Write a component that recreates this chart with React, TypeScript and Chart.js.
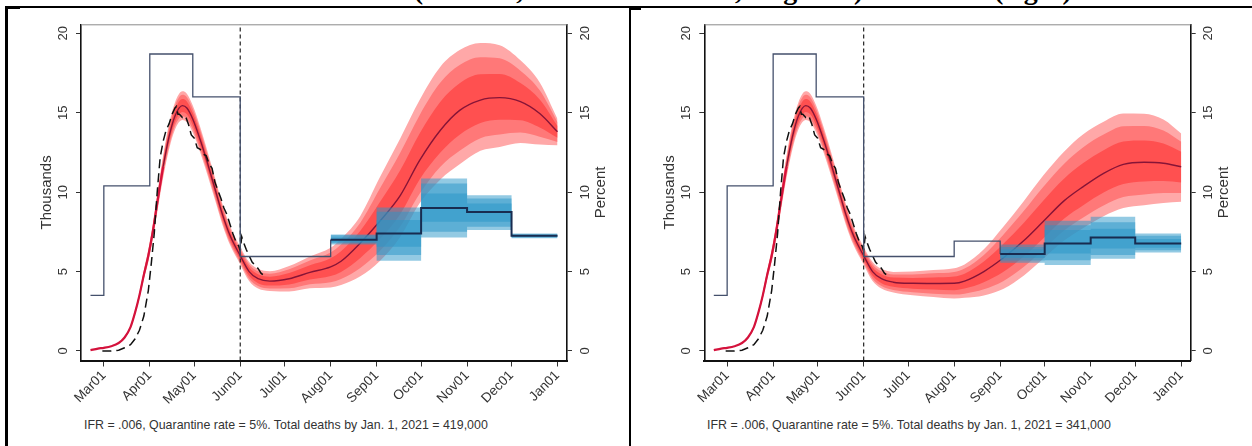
import React, { useEffect, useRef } from 'react';
import { Chart, registerables } from 'chart.js';

Chart.register(...registerables);

// ---------- axes ----------
const TICK_DAYS = [0, 31, 61, 92, 122, 153, 184, 214, 245, 275, 306];
const TICK_LABELS = ['Mar01', 'Apr01', 'May01', 'Jun01', 'Jul01', 'Aug01', 'Sep01', 'Oct01', 'Nov01', 'Dec01', 'Jan01'];
const Y_TICKS = [0, 5, 10, 15, 20];
const X_MIN = -15.4;
const X_MAX = 312.4;
const Y_MIN = -0.6;
const Y_MAX = 20.57;
const LOCKDOWN_DAY = 92;

const TITLE = 'and demand forces (sectoral, work-from-home, wage cut) combined (right)';
const FOOTER_LEFT = 'IFR = .006, Quarantine rate = 5%. Total deaths by Jan. 1, 2021 = 419,000';
const FOOTER_RIGHT = 'IFR = .006, Quarantine rate = 5%. Total deaths by Jan. 1, 2021 = 341,000';

// ---------- simulated daily deaths (thousands), days since Mar 1 ----------
const FAN_DAYS = [-9, -4, 0, 5, 10, 14, 18, 21, 24, 27, 30, 33, 36, 40, 44, 48, 53, 56, 60, 65, 70, 75, 80, 85, 92, 98, 104,
  112, 125, 139, 153, 160, 173, 186, 200, 213, 227, 240, 254, 267, 281, 294, 306];

// common history (days -9 .. 104)
const MED_EARLY = [0.05, 0.15, 0.2, 0.3, 0.5, 0.85, 1.5, 2.4, 3.5, 4.8, 6.0, 7.5, 9.3, 11.6, 13.5, 14.8, 15.45, 15.3, 14.6, 13.3, 11.8, 10.2, 8.6, 7.3, 6.0, 5.0, 4.55];
const OUT_HI_EARLY = [0.05, 0.15, 0.2, 0.3, 0.52, 0.9, 1.6, 2.55, 3.7, 5.1, 6.4, 8.0, 9.9, 12.3, 14.3, 15.65, 16.35, 16.2, 15.45, 14.1, 12.55, 10.9, 9.25, 7.9, 6.55, 5.6, 5.17];
const OUT_LO_EARLY = [0.05, 0.15, 0.2, 0.3, 0.48, 0.8, 1.4, 2.25, 3.3, 4.5, 5.6, 7.0, 8.7, 10.9, 12.7, 13.95, 14.55, 14.4, 13.75, 12.5, 11.05, 9.5, 7.95, 6.7, 5.45, 4.4, 3.93];
const MID_HI_EARLY = [0.05, 0.15, 0.2, 0.3, 0.52, 0.89, 1.58, 2.51, 3.65, 5.03, 6.3, 7.88, 9.75, 12.13, 14.1, 15.44, 16.13, 15.98, 15.24, 13.9, 12.36, 10.73, 9.09, 7.75, 6.41, 5.45, 5.02];
const MID_LO_EARLY = [0.05, 0.15, 0.2, 0.3, 0.48, 0.81, 1.43, 2.29, 3.35, 4.58, 5.7, 7.13, 8.85, 11.08, 12.9, 14.16, 14.78, 14.63, 13.96, 12.7, 11.24, 9.68, 8.11, 6.85, 5.59, 4.55, 4.09];
const IN_HI_EARLY = [0.05, 0.15, 0.2, 0.3, 0.51, 0.87, 1.55, 2.47, 3.59, 4.94, 6.18, 7.73, 9.57, 11.92, 13.86, 15.18, 15.86, 15.71, 14.98, 13.66, 12.14, 10.52, 8.89, 7.57, 6.25, 5.27, 4.83];
const IN_LO_EARLY = [0.05, 0.15, 0.2, 0.3, 0.49, 0.83, 1.46, 2.33, 3.41, 4.67, 5.82, 7.28, 9.03, 11.29, 13.14, 14.42, 15.05, 14.9, 14.22, 12.94, 11.46, 9.89, 8.31, 7.03, 5.75, 4.73, 4.27];

// left panel forecast (days 112 .. 306)
const L_MED_LATE = [4.4, 4.55, 4.95, 5.3, 5.65, 6.8, 8.15, 9.8, 12.0, 13.9, 15.15, 15.8, 15.95, 15.7, 14.95, 13.8];
const L_OUT_HI_LATE = [5.02, 5.35, 5.95, 6.5, 7.05, 8.5, 10.9, 13.4, 15.8, 17.9, 18.95, 19.4, 19.25, 18.3, 16.9, 14.6];
const L_OUT_LO_LATE = [3.78, 3.75, 3.95, 4.0, 4.15, 4.7, 5.65, 7.2, 9.3, 10.8, 11.75, 12.6, 12.85, 13.1, 13.0, 12.95];
const L_MID_HI_LATE = [4.87, 5.15, 5.7, 6.2, 6.7, 8.08, 10.2, 12.5, 14.85, 16.9, 18.0, 18.5, 18.43, 17.65, 16.41, 14.4];
const L_MID_LO_LATE = [3.94, 3.95, 4.2, 4.33, 4.53, 5.23, 6.28, 7.85, 9.9, 11.6, 12.6, 13.4, 13.63, 13.75, 13.49, 13.16];
const L_IN_HI_LATE = [4.68, 4.91, 5.4, 5.84, 6.28, 7.57, 9.35, 11.4, 13.7, 15.7, 16.86, 17.42, 17.44, 16.87, 15.83, 14.16];
const L_IN_LO_LATE = [4.12, 4.19, 4.5, 4.72, 4.98, 5.86, 7.03, 8.63, 10.8, 12.5, 13.62, 14.36, 14.56, 14.53, 14.07, 13.42];

// right panel forecast (days 112 .. 306)
const R_MED_LATE = [4.33, 4.26, 4.25, 4.26, 4.4, 5.0, 5.85, 6.95, 8.15, 9.45, 10.35, 11.2, 11.75, 11.88, 11.82, 11.6];
const R_OUT_HI_LATE = [4.98, 5.01, 5.1, 5.21, 5.45, 6.4, 7.8, 9.45, 11.05, 12.55, 13.65, 14.45, 14.95, 14.93, 14.57, 13.7];
const R_OUT_LO_LATE = [3.68, 3.51, 3.4, 3.31, 3.35, 3.5, 3.9, 4.75, 5.8, 6.95, 7.75, 8.5, 9.0, 9.18, 9.32, 9.4];
const R_MID_HI_LATE = [4.82, 4.82, 4.89, 4.97, 5.19, 6.05, 7.31, 8.83, 10.33, 11.78, 12.83, 13.64, 14.15, 14.17, 13.88, 13.18];
const R_MID_LO_LATE = [3.84, 3.7, 3.61, 3.55, 3.61, 3.88, 4.39, 5.3, 6.39, 7.58, 8.4, 9.18, 9.69, 9.86, 9.95, 9.95];
const R_IN_HI_LATE = [4.62, 4.6, 4.63, 4.69, 4.87, 5.63, 6.73, 8.08, 9.46, 10.85, 11.84, 12.66, 13.19, 13.25, 13.06, 12.55];
const R_IN_LO_LATE = [4.04, 3.92, 3.87, 3.83, 3.93, 4.33, 4.97, 5.96, 7.09, 8.33, 9.18, 9.99, 10.51, 10.67, 10.7, 10.61];

// ---------- observed daily deaths (thousands) ----------
const OBS_DAYS = [-1, 5, 10, 14, 18, 21, 24, 27, 30, 32, 34, 36, 38, 40, 42, 44, 46, 48, 49, 50, 51, 53, 55, 57, 59, 61, 63, 65, 67, 69, 71, 73, 75, 77, 79, 81, 83, 85, 87, 89, 91, 92, 93, 94, 96, 98, 100, 102, 104, 106, 108];
const OBS_DEATHS = [0.0, 0.0, 0.05, 0.2, 0.4, 0.75, 1.3, 2.2, 3.8, 5.5, 7.4, 10.0, 12.2, 13.2, 13.9, 14.3, 14.9, 15.3, 15.4, 14.9, 14.9, 14.7, 14.8, 14.3, 13.6, 13.4, 12.8, 12.7, 12.4, 12.3, 11.8, 11.5, 10.6, 10.1, 9.6, 9.0, 8.6, 8.0, 7.4, 6.9, 6.6, 6.3, 7.2, 6.9, 6.4, 6.0, 5.6, 5.4, 5.2, 4.9, 4.75];

// ---------- unemployment rate (percent), step series ----------
const L_STEP_EDGES = [-9, 0, 31, 60, 92, 153];
const L_STEP_VALUES = [3.5, 10.4, 18.7, 16.0, 5.95];
const L_PROJ_EDGES = [153, 184, 214, 245, 275, 306];
const L_PROJ_VALUES = [7.0, 7.4, 9.0, 8.75, 7.25];
const L_BLUE_OUT_HI = [7.34, 9.04, 10.86, 9.81, 7.4];
const L_BLUE_OUT_LO = [6.7, 5.68, 7.15, 7.61, 7.1];
const L_BLUE_MID_HI = [7.28, 8.76, 10.55, 9.6, 7.35];
const L_BLUE_MID_LO = [6.78, 6.04, 7.5, 7.82, 7.15];
const L_BLUE_IN_HI = [7.15, 8.24, 9.92, 9.29, 7.3];
const L_BLUE_IN_LO = [6.85, 6.56, 8.13, 8.13, 7.2];

const R_STEP_EDGES = [-9, 0, 31, 60, 92, 153, 184];
const R_STEP_VALUES = [3.5, 10.4, 18.7, 16.0, 5.95, 6.92];
const R_PROJ_EDGES = [184, 214, 245, 275, 306];
const R_PROJ_VALUES = [6.1, 6.77, 7.15, 6.77];
const R_BLUE_OUT_HI = [6.7, 8.2, 8.45, 7.4];
const R_BLUE_OUT_LO = [5.55, 5.41, 5.8, 6.2];
const R_BLUE_MID_HI = [6.55, 7.92, 8.1, 7.25];
const R_BLUE_MID_LO = [5.7, 5.72, 6.05, 6.35];
const R_BLUE_IN_HI = [6.4, 7.61, 7.7, 7.05];
const R_BLUE_IN_LO = [5.85, 6.14, 6.45, 6.5];

// ---------- styling ----------
const FONT = '"Liberation Sans", Arial, Helvetica, sans-serif';
const RED_OUT = 'rgb(255,168,168)';
const RED_MID = 'rgb(255,120,120)';
const RED_IN = 'rgb(255,80,80)';
const CRIMSON = 'rgb(212,18,60)';
const MAROON = 'rgb(135,20,55)';
const BLUE = 'rgba(40,150,200,0.5)';
const NAVY_THIN = 'rgb(68,80,108)';
const NAVY_THICK = 'rgb(24,44,80)';

type PanelData = {
  med: number[]; outHi: number[]; outLo: number[]; midHi: number[]; midLo: number[]; inHi: number[]; inLo: number[];
  stepEdges: number[]; stepValues: number[]; projEdges: number[]; projValues: number[];
  bOutHi: number[]; bOutLo: number[]; bMidHi: number[]; bMidLo: number[]; bInHi: number[]; bInLo: number[];
  axisLeft: number; axisRight: number;
};

const LEFT: PanelData = {
  med: MED_EARLY.concat(L_MED_LATE), outHi: OUT_HI_EARLY.concat(L_OUT_HI_LATE), outLo: OUT_LO_EARLY.concat(L_OUT_LO_LATE),
  midHi: MID_HI_EARLY.concat(L_MID_HI_LATE), midLo: MID_LO_EARLY.concat(L_MID_LO_LATE),
  inHi: IN_HI_EARLY.concat(L_IN_HI_LATE), inLo: IN_LO_EARLY.concat(L_IN_LO_LATE),
  stepEdges: L_STEP_EDGES, stepValues: L_STEP_VALUES, projEdges: L_PROJ_EDGES, projValues: L_PROJ_VALUES,
  bOutHi: L_BLUE_OUT_HI, bOutLo: L_BLUE_OUT_LO, bMidHi: L_BLUE_MID_HI, bMidLo: L_BLUE_MID_LO, bInHi: L_BLUE_IN_HI, bInLo: L_BLUE_IN_LO,
  axisLeft: 71, axisRight: 59,
};
const RIGHT: PanelData = {
  med: MED_EARLY.concat(R_MED_LATE), outHi: OUT_HI_EARLY.concat(R_OUT_HI_LATE), outLo: OUT_LO_EARLY.concat(R_OUT_LO_LATE),
  midHi: MID_HI_EARLY.concat(R_MID_HI_LATE), midLo: MID_LO_EARLY.concat(R_MID_LO_LATE),
  inHi: IN_HI_EARLY.concat(R_IN_HI_LATE), inLo: IN_LO_EARLY.concat(R_IN_LO_LATE),
  stepEdges: R_STEP_EDGES, stepValues: R_STEP_VALUES, projEdges: R_PROJ_EDGES, projValues: R_PROJ_VALUES,
  bOutHi: R_BLUE_OUT_HI, bOutLo: R_BLUE_OUT_LO, bMidHi: R_BLUE_MID_HI, bMidLo: R_BLUE_MID_LO, bInHi: R_BLUE_IN_HI, bInLo: R_BLUE_IN_LO,
  axisLeft: 72.3, axisRight: 61.3,
};

function stepPoints(edges: number[], values: number[]) {
  const pts: { x: number; y: number }[] = [];
  values.forEach((v, i) => {
    pts.push({ x: edges[i], y: v });
    pts.push({ x: edges[i + 1], y: v });
  });
  return pts;
}

function buildConfig(p: PanelData): any {
  const fan = (ys: number[]) => FAN_DAYS.map((x, i) => ({ x, y: ys[i] }));
  const area = (data: any[], color: string, order: number, fillTarget: number | false, smooth: boolean) => ({
    data, order, fill: fillTarget === false ? false : { target: fillTarget }, backgroundColor: color,
    borderColor: 'transparent', borderWidth: 0, pointRadius: 0, tension: smooth ? 0.4 : 0,
    cubicInterpolationMode: smooth ? 'monotone' : 'default',
  });
  const thinSteps = stepPoints(p.stepEdges, p.stepValues);
  thinSteps.push({ x: p.projEdges[0], y: p.projValues[0] });

  const datasets: any[] = [
    area(fan(p.outHi), RED_OUT, 9, 1, true),
    area(fan(p.outLo), RED_OUT, 9, false, true),
    area(fan(p.midHi), RED_MID, 8, 3, true),
    area(fan(p.midLo), RED_MID, 8, false, true),
    area(fan(p.inHi), RED_IN, 7, 5, true),
    area(fan(p.inLo), RED_IN, 7, false, true),
    {
      data: fan(p.med), order: 6, borderWidth: 1.6, pointRadius: 0, fill: false,
      cubicInterpolationMode: 'monotone', borderColor: MAROON,
      segment: { borderColor: (c: any) => (c.p0.parsed.x < 38 ? CRIMSON : MAROON), borderWidth: (c: any) => (c.p0.parsed.x < 38 ? 2.2 : 1.4) },
    },
    {
      data: OBS_DAYS.map((x, i) => ({ x, y: OBS_DEATHS[i] })), order: 5, borderColor: '#111', borderWidth: 1.5,
      borderDash: [9, 5], pointRadius: 0, fill: false, tension: 0,
    },
    area(stepPoints(p.projEdges, p.bOutHi), BLUE, 4, 9, false),
    area(stepPoints(p.projEdges, p.bOutLo), BLUE, 4, false, false),
    area(stepPoints(p.projEdges, p.bMidHi), BLUE, 3, 11, false),
    area(stepPoints(p.projEdges, p.bMidLo), BLUE, 3, false, false),
    area(stepPoints(p.projEdges, p.bInHi), BLUE, 2, 13, false),
    area(stepPoints(p.projEdges, p.bInLo), BLUE, 2, false, false),
    {
      data: [{ x: LOCKDOWN_DAY, y: Y_MIN }, { x: LOCKDOWN_DAY, y: Y_MAX }], order: 1.5, borderColor: '#222',
      borderWidth: 1.2, borderDash: [4, 3], pointRadius: 0, fill: false,
    },
    { data: thinSteps, order: 1, borderColor: NAVY_THIN, borderWidth: 1.3, pointRadius: 0, fill: false, tension: 0 },
    { data: stepPoints(p.projEdges, p.projValues), order: 0, borderColor: NAVY_THICK, borderWidth: 2, pointRadius: 0, fill: false, tension: 0 },
  ];

  const yAxis = (position: string, width: number) => ({
    type: 'linear', position, min: Y_MIN, max: Y_MAX,
    afterBuildTicks: (s: any) => { s.ticks = Y_TICKS.map((v) => ({ value: v })); },
    afterFit: (s: any) => { s.width = width; },
    ticks: { display: false },
    grid: { display: true, drawOnChartArea: false, drawTicks: true, tickLength: 5, color: '#333', lineWidth: 1 },
    border: { display: true, color: '#111', width: 1.6 },
  });

  const textPlugin = {
    id: 'axisText',
    afterDraw(chart: any) {
      const { ctx, chartArea: a, scales } = chart;
      ctx.save();
      ctx.strokeStyle = '#8a8a8a';
      ctx.lineWidth = 1;
      ctx.beginPath();
      ctx.moveTo(a.left, a.top + 0.5);
      ctx.lineTo(a.right, a.top + 0.5);
      ctx.stroke();
      const rotText = (t: string, x: number, y: number, size: number) => {
        ctx.save();
        ctx.translate(x, y);
        ctx.rotate(-Math.PI / 2);
        ctx.font = `${size}px ${FONT}`;
        ctx.fillStyle = '#333';
        ctx.textAlign = 'center';
        ctx.textBaseline = 'middle';
        ctx.fillText(t, 0, 0);
        ctx.restore();
      };
      Y_TICKS.forEach((v) => {
        const y = scales.y.getPixelForValue(v);
        rotText(String(v), a.left - 17.5, y, 13);
        rotText(String(v), a.right + 18, y, 13);
      });
      const mid = (a.top + a.bottom) / 2;
      rotText('Thousands', a.left - 34.5, mid, 15);
      rotText('Percent', a.right + 33.5, mid, 15);
      ctx.restore();
    },
  };

  return {
    type: 'line',
    data: { datasets },
    options: {
      responsive: false,
      animation: false,
      events: [],
      parsing: true,
      layout: { padding: { top: 16.3, left: 0, right: 0, bottom: 0 } },
      plugins: { legend: { display: false }, tooltip: { enabled: false } },
      scales: {
        x: {
          type: 'linear', min: X_MIN, max: X_MAX,
          afterBuildTicks: (s: any) => { s.ticks = TICK_DAYS.map((v) => ({ value: v })); },
          afterFit: (s: any) => { s.height = 47.5; },
          ticks: {
            autoSkip: false, minRotation: 45, maxRotation: 45, padding: 1, color: '#333',
            font: { family: FONT, size: 13.5 },
            callback: (v: number) => TICK_LABELS[TICK_DAYS.indexOf(v)] ?? '',
          },
          grid: { display: true, drawOnChartArea: false, drawTicks: true, tickLength: 6, color: '#333', lineWidth: 1 },
          border: { display: true, color: '#111', width: 2 },
        },
        y: yAxis('left', p.axisLeft),
        y2: yAxis('right', p.axisRight),
      },
    },
    plugins: [textPlugin],
  };
}

function Panel({ data, left, width }: { data: PanelData; left: number; width: number }) {
  const ref = useRef<HTMLCanvasElement>(null);
  useEffect(() => {
    const chart = new Chart(ref.current as HTMLCanvasElement, buildConfig(data));
    return () => chart.destroy();
  }, [data]);
  return (
    <canvas
      ref={ref}
      width={width}
      height={400}
      style={{ position: 'absolute', left, top: 8, width, height: 400 }}
    />
  );
}

const footerStyle = (left: number): React.CSSProperties => ({
  position: 'absolute', left, top: 418.3, font: `12.4px ${FONT}`, lineHeight: '14px', color: '#333', whiteSpace: 'nowrap',
});

export default function App() {
  return (
    <div style={{ position: 'absolute', left: 0, top: 0, width: 1252, height: 446, overflow: 'hidden', background: '#fff' }}>
      <div
        style={{
          position: 'absolute', left: 0, top: -24.5, width: 1252, textAlign: 'center',
          font: 'bold 28px "Liberation Serif", "Times New Roman", serif', lineHeight: '28px', whiteSpace: 'nowrap', color: '#000',
        }}
      >
        {TITLE}
      </div>
      <div style={{ position: 'absolute', left: 5, top: 6.3, width: 1247, height: 1.3, background: '#000' }} />
      <div style={{ position: 'absolute', left: 5, top: 6.3, width: 15, height: 2.5, background: '#000' }} />
      <div style={{ position: 'absolute', left: 5, top: 6.3, width: 2.5, height: 440, background: '#000' }} />
      <div style={{ position: 'absolute', left: 628.5, top: 7, width: 2, height: 440, background: '#000' }} />
      <div style={{ position: 'absolute', left: 628.5, top: 7.5, width: 12, height: 2, background: '#000' }} />
      <Panel data={LEFT} left={10} width={616} />
      <Panel data={RIGHT} left={632} width={620} />
      <div style={footerStyle(84)}>{FOOTER_LEFT}</div>
      <div style={footerStyle(707)}>{FOOTER_RIGHT}</div>
    </div>
  );
}
